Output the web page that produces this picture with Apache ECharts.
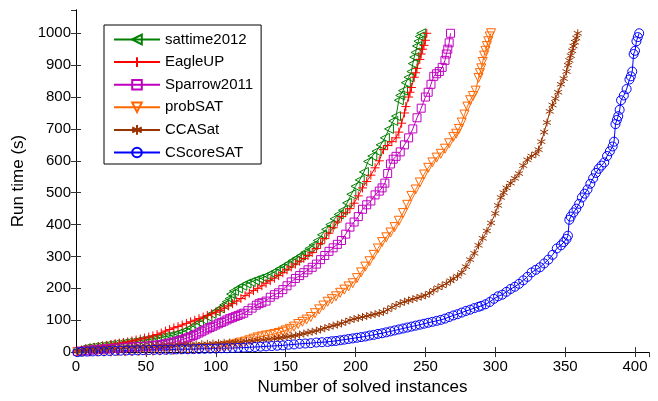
<!DOCTYPE html>
<html><head><meta charset="utf-8">
<script src="https://cdn.jsdelivr.net/npm/echarts@6/dist/echarts.min.js"></script>
<style>html,body{margin:0;padding:0;background:#fff}#c{width:658px;height:401px}</style>
</head><body><div id="c"></div>
<script>
const seriesNames = ['sattime2012', 'EagleUP', 'Sparrow2011', 'probSAT', 'CCASat', 'CScoreSAT'];
const xTitle = 'Number of solved instances';
const yTitle = 'Run time (s)';

const sattime2012 = [[1,4],[4,9],[7,12],[10,14],[13,16],[16,18],[19,19],[22,21],[25,23],[28,25],[31,26],[34,28],[37,30],[40,31],[43,33],[46,36],[49,38],[52,40],[55,42],[58,44],[61,47],[64,49],[67,51],[70,54],[73,58],[76,63],[79,69],[82,76],[85,85],[88,93],[91,101],[94,111],[97,120],[100,128],[103,137],[106,148],[108,158],[110,168],[111,182],[113,192],[116,200],[119,208],[122,215],[125,220],[128,225],[131,230],[134,234],[137,240],[140,247],[143,254],[146,262],[149,270],[152,278],[155,287],[158,295],[161,303],[164,313],[167,325],[170,336],[173,350],[176,368],[179,385],[182,400],[185,418],[188,432],[191,445],[194,468],[197,495],[200,520],[203,540],[206,565],[209,598],[212,615],[215,630],[218,650],[221,672],[224,700],[227,725],[229,740],[231,790],[232,805],[234,820],[236,845],[238,862],[240,880],[241,905],[242,925],[243,940],[244,960],[245,975],[246,990],[247,1000]];

const eagleUP = [[1,3],[4,7],[7,10],[10,12],[13,14],[16,17],[19,19],[22,21],[25,24],[28,26],[31,28],[34,30],[37,32],[40,35],[43,38],[46,41],[49,44],[52,47],[55,51],[58,55],[61,60],[64,66],[67,71],[70,76],[73,80],[76,85],[79,90],[82,95],[85,100],[88,105],[91,110],[94,115],[97,120],[100,125],[103,131],[106,138],[109,145],[112,152],[115,160],[118,168],[121,177],[124,185],[127,193],[130,200],[133,208],[136,216],[139,224],[142,232],[145,240],[148,249],[151,258],[154,267],[157,276],[160,285],[163,294],[166,303],[169,312],[172,325],[175,340],[178,356],[181,373],[184,390],[187,408],[190,425],[193,437],[196,450],[199,467],[202,490],[205,515],[208,535],[211,555],[214,578],[217,600],[220,635],[223,648],[226,660],[229,672],[231,690],[233,718],[235,750],[236,770],[238,800],[239,815],[240,830],[242,862],[243,876],[244,890],[246,918],[247,935],[248,950],[249,962],[250,978],[251,1000]];

const sparrow2011 = [[1,2],[4,3],[7,4],[10,6],[13,7],[16,8],[19,9.5],[22,10],[25,11],[28,12],[31,13],[34,14],[37,15],[40,16],[43,16.5],[46,17.5],[49,18.5],[52,19.5],[55,21],[58,22],[60,23],[62,24.5],[64,26],[66,27.5],[68,29],[70,31.5],[72,34],[74,36.5],[76,39],[78,42],[80,45],[82,48],[84,52],[86,56],[88,60],[90,64],[92,69],[94,73],[96,77],[98,81],[100,85],[102,89],[104,93],[106,97],[108,101],[110,105],[112,108],[114,112],[116,115],[118,119],[120,122],[123,130],[126,138],[129,147],[131,152],[133,155],[136,160],[139,172],[142,180],[145,186],[148,196],[151,208],[154,220],[157,231],[160,240],[163,249],[166,258],[169,266],[172,276],[175,290],[178,303],[181,316],[184,327],[187,338],[190,350],[193,370],[196,392],[199,408],[202,425],[205,448],[208,462],[211,474],[214,493],[217,505],[219,515],[221,530],[223,560],[225,590],[227,605],[229,614],[232,628],[235,650],[238,672],[241,700],[244,735],[247,765],[250,800],[252,815],[254,840],[256,865],[258,873],[260,880],[262,893],[264,915],[265,935],[266,950],[267,970],[268,1000]];

const probSAT = [[1,0.5],[5,0.5],[10,0.5],[15,1],[20,1],[25,1],[30,1.5],[35,1.5],[40,2],[45,2.5],[50,3],[55,3.5],[60,4],[65,5],[70,6],[75,7],[80,8],[85,9.5],[90,11],[95,12.5],[100,14],[103,16],[106,18],[109,20],[112,23],[115,26],[118,30],[121,33],[124,37],[127,42],[130,46],[133,49],[136,52],[139,54],[142,57],[145,60],[148,64],[150,68],[153,73],[156,80],[159,88],[162,95],[165,102],[168,110],[171,122],[174,134],[177,146],[180,158],[183,166],[186,175],[189,186],[192,196],[195,206],[198,216],[201,232],[204,250],[207,268],[210,285],[213,305],[216,325],[219,345],[222,360],[225,375],[228,392],[231,412],[234,436],[237,462],[240,490],[243,510],[246,532],[249,557],[252,578],[255,595],[258,610],[261,622],[264,638],[267,655],[270,675],[272,685],[274,700],[276,720],[278,745],[280,770],[282,790],[284,803],[286,820],[288,860],[289,875],[290,890],[291,910],[292,930],[293,945],[294,960],[295,975],[296,990],[297,1000]];

const ccaSat = [[1,2],[4,4],[7,6],[10,8],[14,9],[18,10],[22,11],[26,12],[30,14],[34,14.5],[38,15.5],[42,16.5],[46,17],[50,18],[54,19],[58,19.5],[62,20],[66,20.5],[70,21],[74,22],[78,23],[82,23.5],[86,24],[90,25],[94,26],[98,27],[102,28],[106,29],[110,30],[114,31],[118,32],[122,34],[126,35],[130,37],[134,38.5],[138,40],[142,42],[145,44],[148,46],[151,48],[154,50],[157,52],[160,55],[163,58],[166,61],[169,64],[172,67],[175,71],[178,75],[181,79],[184,83],[187,86],[190,90],[193,95],[196,100],[199,104],[202,107],[205,110],[208,113],[211,116],[214,119],[217,122],[220,126],[223,133],[226,140],[229,147],[232,153],[235,158],[238,162],[241,166],[244,170],[247,174],[250,178],[253,185],[256,194],[259,202],[262,208],[265,215],[268,224],[270,230],[273,238],[276,250],[279,268],[282,290],[285,310],[288,335],[291,357],[294,380],[297,405],[300,435],[302,460],[304,485],[306,500],[308,515],[311,530],[314,545],[317,560],[320,585],[323,603],[326,615],[329,622],[331,635],[333,660],[335,690],[337,720],[339,755],[341,775],[343,795],[345,815],[347,840],[349,858],[351,880],[352,900],[353,915],[354,930],[355,945],[356,960],[357,972],[358,985],[359,1000]];

const cscoreSAT = [[1,0],[4,1],[8,1.5],[12,2],[16,2.5],[20,3],[24,3.5],[28,4],[32,4.5],[36,5],[40,5],[44,5.5],[48,6],[52,6.5],[56,7],[60,7],[64,7.5],[68,8],[72,8.5],[76,9],[80,9],[84,9.5],[88,10],[92,10.5],[96,11],[100,11],[104,12],[108,12],[112,13],[116,13.5],[120,14],[124,15],[128,16],[132,17],[136,18],[140,19],[144,20],[148,21],[152,23],[156,24],[160,26],[164,27],[168,28],[172,30],[176,31],[180,32],[183,34],[186,35],[189,37],[192,39],[195,41],[198,43],[201,45],[204,47],[207,49],[210,52],[213,54],[216,57],[219,59],[222,62],[225,65],[228,68],[231,71],[234,74],[237,77],[240,80],[243,83],[246,86],[249,89],[252,92],[255,95],[258,98],[261,101],[264,105],[267,110],[270,115],[273,119],[276,124],[279,129],[282,133],[285,138],[288,142],[290,145],[293,150],[296,157],[299,167],[302,175],[305,180],[308,189],[311,198],[314,205],[317,214],[320,225],[323,236],[326,250],[329,258],[332,266],[335,278],[338,290],[341,305],[344,325],[347,335],[349,345],[351,355],[352,365],[353,415],[354,425],[356,438],[358,450],[360,465],[362,485],[364,497],[366,510],[368,528],[370,545],[372,562],[374,575],[376,585],[378,595],[380,615],[382,630],[384,645],[385,660],[386,715],[387,728],[388,740],[389,760],[390,790],[392,805],[394,825],[396,855],[397,865],[398,880],[399,935],[400,945],[401,975],[402,988],[403,1000]];

const xTicks = {min: 0, max: 410, interval: 50};
const yTicks = {min: 0, max: 1073, interval: 100};

const FONT = 'Liberation Sans, Arial, Helvetica, sans-serif';
const plusPath = 'path://M0,5L10,5M5,0L5,10';
const starPath = 'path://M5,0L5,10M0.67,2.5L9.33,7.5M0.67,7.5L9.33,2.5';

const styles = [
  {color: '#008000', symbol: 'triangle', size: 9, rotate: 90},
  {color: '#ff0000', symbol: plusPath, size: 9, rotate: 0},
  {color: '#c000c0', symbol: 'rect', size: 8, rotate: 0},
  {color: '#ff6600', symbol: 'triangle', size: 9, rotate: 180},
  {color: '#993300', symbol: starPath, size: 8, rotate: 0},
  {color: '#0000ff', symbol: 'circle', size: 9, rotate: 0}
];
const allData = [sattime2012, eagleUP, sparrow2011, probSAT, ccaSat, cscoreSAT];

const series = allData.map((d, i) => ({
  name: seriesNames[i],
  type: 'line',
  data: d,
  symbol: styles[i].symbol,
  symbolSize: styles[i].size,
  symbolRotate: styles[i].rotate,
  showAllSymbol: true,
  clip: false,
  animation: false,
  lineStyle: {color: styles[i].color, width: 1},
  itemStyle: {color: 'rgba(0,0,0,0)', borderColor: styles[i].color, borderWidth: 1},
  emphasis: {disabled: true}
}));

const tickStyle = {show: true, inside: true, length: 5, lineStyle: {color: '#333', width: 1}};
const lineStyleAxis = {show: true, lineStyle: {color: '#000', width: 1}};
const plain = v => String(v);

const chart = echarts.init(document.getElementById('c'));
chart.setOption({
  backgroundColor: '#fff',
  animation: false,
  grid: {left: 76, right: 9, top: 10, bottom: 45.5, containLabel: false},
  legend: {
    left: 104, top: 25, orient: 'vertical',
    data: seriesNames,
    itemWidth: 46, itemHeight: 12, itemGap: 7.6,
    padding: [7, 8, 4, 9],
    borderColor: '#000', borderWidth: 1, backgroundColor: '#fff',
    textStyle: {fontFamily: FONT, fontSize: 15, color: '#000'},
    selectedMode: false
  },
  xAxis: [
    {type: 'value', position: 'bottom', min: xTicks.min, max: xTicks.max, interval: xTicks.interval,
     name: xTitle, nameLocation: 'middle', nameGap: 26,
     nameTextStyle: {fontFamily: FONT, fontSize: 17, color: '#000'},
     axisLine: lineStyleAxis, axisTick: tickStyle, splitLine: {show: false},
     axisLabel: {margin: 7, fontFamily: FONT, fontSize: 15, color: '#000', showMaxLabel: false, formatter: plain}},
    {type: 'value', position: 'top', min: xTicks.min, max: xTicks.max, interval: xTicks.interval,
     axisLine: lineStyleAxis, axisTick: tickStyle, splitLine: {show: false}, axisLabel: {show: false}}
  ],
  yAxis: [
    {type: 'value', position: 'left', min: yTicks.min, max: yTicks.max, interval: yTicks.interval,
     name: yTitle, nameLocation: 'middle', nameGap: 45, nameRotate: 90,
     nameTextStyle: {fontFamily: FONT, fontSize: 17, color: '#000'},
     axisLine: lineStyleAxis, axisTick: tickStyle, splitLine: {show: false},
     axisLabel: {margin: 5, fontFamily: FONT, fontSize: 15, color: '#000', showMaxLabel: false, formatter: plain}},
    {type: 'value', position: 'right', min: yTicks.min, max: yTicks.max, interval: yTicks.interval,
     axisLine: lineStyleAxis, axisTick: tickStyle, splitLine: {show: false}, axisLabel: {show: false}}
  ],
  series: series
});
</script>
</body></html>
